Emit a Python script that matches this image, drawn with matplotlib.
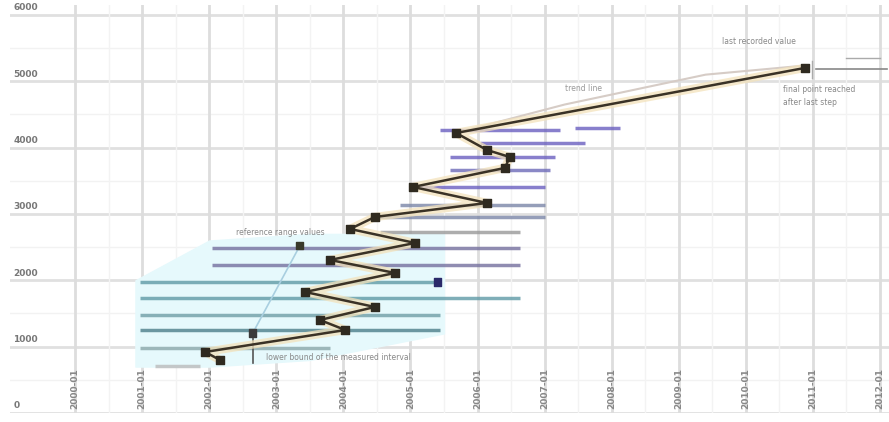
import matplotlib
matplotlib.use("Agg")
import matplotlib.pyplot as plt

# zigzag series (year, value)
path_x = [2002.16, 2001.94, 2004.03, 2003.65, 2004.47, 2003.43, 2004.77, 2003.80, 2005.07,
          2004.10, 2004.47, 2006.14, 2005.04, 2006.41, 2006.48, 2006.14, 2005.68, 2010.88]
path_y = [799, 920, 1251, 1402, 1598, 1824, 2111, 2307, 2563,
          2774, 2955, 3166, 3407, 3694, 3859, 3965, 4221, 5201]

# loose points
extra_x = [2003.35, 2005.40, 2002.65]
extra_y = [2518, 1975, 1206]

# horizontal ranges
bar_y = [4267, 4297, 4071, 3859, 3664, 3407, 3136, 2955, 2729, 2488, 2231,
         1975, 1734, 1477, 1251, 980, 709]
bar_x0 = [2005.44, 2007.45, 2006.04, 2005.59, 2005.59, 2005.07, 2004.85, 2004.40, 2004.55, 2002.04, 2002.04,
          2000.97, 2000.97, 2000.97, 2000.97, 2000.97, 2001.19]
bar_x1 = [2007.23, 2008.12, 2007.60, 2007.16, 2007.08, 2007.01, 2007.01, 2007.01, 2006.63, 2006.63, 2006.63,
          2005.44, 2006.63, 2005.44, 2005.44, 2003.80, 2001.86]
bar_col = ["#6a5fc0", "#6a5fc0", "#6a5fc0", "#6a5fc0", "#6d6ab8", "#6a5fc0", "#7b86a8", "#7b86a8", "#999999",
           "#75709e", "#75709e", "#5f9aa6", "#5f9aa6", "#6f9ea6", "#4d7f8a", "#8aa7aa", "#bbbbbb"]

# light shaded band
band_x = [2000.9, 2002.0, 2003.5, 2005.5]
band_lo = [700, 700, 800, 1200]
band_hi = [2000, 2600, 2700, 2700]

years = list(range(2000, 2013))
ylevels = [0, 1000, 2000, 3000, 4000, 5000, 6000]

fig = plt.figure(figsize=(8.89, 4.22), dpi=100)
ax = fig.add_axes([10 / 889, 9 / 422, 879 / 889, 408 / 422])
ax.set_xlim(1999.03, 2012.135)
ax.set_ylim(0, 6150)

for s in ax.spines.values():
    s.set_visible(False)
ax.set_xticks([])
ax.set_yticks([])

# grid
for yv in ylevels:
    ax.axhline(yv, color="#e0e0e0", lw=2, zorder=0)
    ax.axhline(yv + 500, color="#f2f2f2", lw=1, zorder=0)
for xv in years:
    ax.axvline(xv, color="#dddddd", lw=2, zorder=0)
    ax.axvline(xv + 0.5, color="#f3f3f3", lw=1, zorder=0)

ax.fill_between(band_x, band_lo, band_hi, color="#e6f9fc", zorder=1)

for y, a, b, c in zip(bar_y, bar_x0, bar_x1, bar_col):
    ax.plot([a, b], [y, y], color=c, lw=2.5, alpha=0.8, solid_capstyle="butt", zorder=2)

# pale second line at top
ax.plot([2005.68, 2007.3, 2009.4, 2010.8], [4221, 4650, 5100, 5230], color="#d6ccc6", lw=1.5, zorder=2)
# leader lines
ax.plot([2003.35, 2002.65], [2518, 1206], color="#a9cfe0", lw=1.2, zorder=2)
ax.plot([2002.65, 2002.65], [1206, 750], color="#555555", lw=1.2, zorder=3)
ax.plot([2011.5, 2012.0], [5350, 5350], color="#aaaaaa", lw=1, zorder=2)
ax.plot([2011.05, 2012.1], [5180, 5180], color="#888888", lw=1.2, zorder=2)
ax.plot([2010.98, 2010.98], [5050, 5300], color="#aaaaaa", lw=1, zorder=2)

# zigzag with glow
ax.plot(path_x, path_y, color="#f3e2bb", lw=6, alpha=0.75, solid_capstyle="round", zorder=3)
ax.plot(path_x, path_y, color="#3a3226", lw=1.8, zorder=4)
ax.scatter(path_x, path_y, marker="s", s=30, color="#2f2a20", zorder=5)
ax.scatter(extra_x, extra_y, marker="s", s=26, color=["#3a3a2a", "#2a2a6a", "#3a3a3a"], zorder=5)

# axis labels inside the plot
for yv in ylevels:
    ax.text(0.004, yv + 40, str(yv), transform=ax.get_yaxis_transform(), fontsize=6.5,
            color="#777777", fontweight="bold", va="bottom", ha="left")
for xv in years:
    ax.text(xv, 60, "%d-01" % xv, rotation=90, fontsize=6.5, color="#888888",
            fontweight="bold", va="bottom", ha="center")

# annotations
ax.text(2002.4, 2720, "reference range values", fontsize=5.5, color="#888888", va="center")
ax.text(2002.85, 840, "lower bound of the measured interval", fontsize=5.5, color="#888888", va="center")
ax.text(2007.3, 4890, "trend line", fontsize=5.5, color="#999999", va="center")
ax.text(2009.65, 5600, "last recorded value", fontsize=5.5, color="#888888", va="center")
ax.text(2010.55, 4780, "final point reached\nafter last step", fontsize=5.5, color="#888888",
        va="center", linespacing=1.6)

fig.savefig("out.png", dpi=100)
